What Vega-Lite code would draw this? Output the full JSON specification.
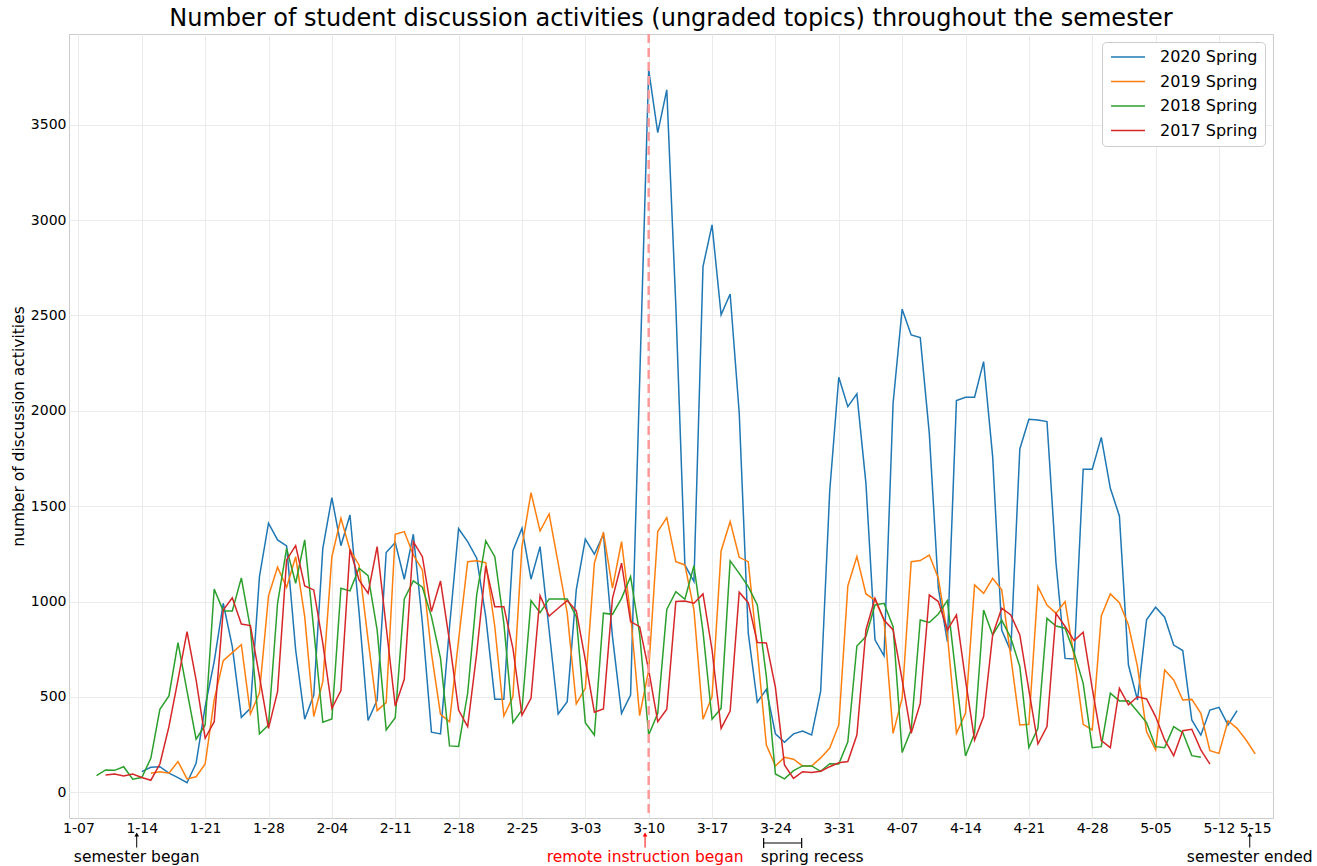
{
 "$schema": "https://vega.github.io/schema/vega-lite/v6.json",
 "width": 1204,
 "height": 784,
 "autosize": {"type": "none"},
 "padding": {"left": 69, "top": 34, "right": 44, "bottom": 48},
 "background": "white",
 "config": {
  "font": "DejaVu Sans",
  "view": {"stroke": "#cccccc", "strokeWidth": 1},
  "axis": {"domain": false, "ticks": false, "gridColor": "#ebebeb", "gridWidth": 1, "labelFont": "DejaVu Sans", "labelFontSize": 14, "labelColor": "#000000", "titleFont": "DejaVu Sans", "titleFontWeight": "normal", "titleColor": "#000000"}
 },
 "title": {"text": "Number of student discussion activities (ungraded topics) throughout the semester", "fontSize": 24, "font": "DejaVu Sans", "fontWeight": "normal", "color": "#000000", "offset": 2},
 "datasets": {
  "counts": [
   {"semester":"2020 Spring","day":7,"count":108},{"semester":"2020 Spring","day":8,"count":131},{"semester":"2020 Spring","day":9,"count":134},{"semester":"2020 Spring","day":10,"count":100},{"semester":"2020 Spring","day":11,"count":77},{"semester":"2020 Spring","day":12,"count":50},{"semester":"2020 Spring","day":13,"count":152},{"semester":"2020 Spring","day":14,"count":449},{"semester":"2020 Spring","day":15,"count":685},{"semester":"2020 Spring","day":16,"count":991},{"semester":"2020 Spring","day":17,"count":764},{"semester":"2020 Spring","day":18,"count":393},{"semester":"2020 Spring","day":19,"count":440},{"semester":"2020 Spring","day":20,"count":1131},{"semester":"2020 Spring","day":21,"count":1411},{"semester":"2020 Spring","day":22,"count":1323},{"semester":"2020 Spring","day":23,"count":1292},{"semester":"2020 Spring","day":24,"count":746},{"semester":"2020 Spring","day":25,"count":383},{"semester":"2020 Spring","day":26,"count":510},{"semester":"2020 Spring","day":27,"count":1279},{"semester":"2020 Spring","day":28,"count":1545},{"semester":"2020 Spring","day":29,"count":1293},{"semester":"2020 Spring","day":30,"count":1454},{"semester":"2020 Spring","day":31,"count":947},{"semester":"2020 Spring","day":32,"count":376},{"semester":"2020 Spring","day":33,"count":484},{"semester":"2020 Spring","day":34,"count":1257},{"semester":"2020 Spring","day":35,"count":1309},{"semester":"2020 Spring","day":36,"count":1117},{"semester":"2020 Spring","day":37,"count":1353},{"semester":"2020 Spring","day":38,"count":886},{"semester":"2020 Spring","day":39,"count":315},{"semester":"2020 Spring","day":40,"count":306},{"semester":"2020 Spring","day":41,"count":868},{"semester":"2020 Spring","day":42,"count":1382},{"semester":"2020 Spring","day":43,"count":1314},{"semester":"2020 Spring","day":44,"count":1227},{"semester":"2020 Spring","day":45,"count":921},{"semester":"2020 Spring","day":46,"count":488},{"semester":"2020 Spring","day":47,"count":488},{"semester":"2020 Spring","day":48,"count":1267},{"semester":"2020 Spring","day":49,"count":1384},{"semester":"2020 Spring","day":50,"count":1117},{"semester":"2020 Spring","day":51,"count":1288},{"semester":"2020 Spring","day":52,"count":851},{"semester":"2020 Spring","day":53,"count":410},{"semester":"2020 Spring","day":54,"count":475},{"semester":"2020 Spring","day":55,"count":1061},{"semester":"2020 Spring","day":56,"count":1327},{"semester":"2020 Spring","day":57,"count":1248},{"semester":"2020 Spring","day":58,"count":1353},{"semester":"2020 Spring","day":59,"count":816},{"semester":"2020 Spring","day":60,"count":414},{"semester":"2020 Spring","day":61,"count":510},{"semester":"2020 Spring","day":62,"count":2150},{"semester":"2020 Spring","day":63,"count":3788},{"semester":"2020 Spring","day":64,"count":3459},{"semester":"2020 Spring","day":65,"count":3683},{"semester":"2020 Spring","day":66,"count":2550},{"semester":"2020 Spring","day":67,"count":1192},{"semester":"2020 Spring","day":68,"count":1105},{"semester":"2020 Spring","day":69,"count":2756},{"semester":"2020 Spring","day":70,"count":2975},{"semester":"2020 Spring","day":71,"count":2503},{"semester":"2020 Spring","day":72,"count":2613},{"semester":"2020 Spring","day":73,"count":1990},{"semester":"2020 Spring","day":74,"count":834},{"semester":"2020 Spring","day":75,"count":472},{"semester":"2020 Spring","day":76,"count":540},{"semester":"2020 Spring","day":77,"count":306},{"semester":"2020 Spring","day":78,"count":262},{"semester":"2020 Spring","day":79,"count":306},{"semester":"2020 Spring","day":80,"count":321},{"semester":"2020 Spring","day":81,"count":300},{"semester":"2020 Spring","day":82,"count":530},{"semester":"2020 Spring","day":83,"count":1580},{"semester":"2020 Spring","day":84,"count":2176},{"semester":"2020 Spring","day":85,"count":2022},{"semester":"2020 Spring","day":86,"count":2089},{"semester":"2020 Spring","day":87,"count":1620},{"semester":"2020 Spring","day":88,"count":799},{"semester":"2020 Spring","day":89,"count":715},{"semester":"2020 Spring","day":90,"count":2040},{"semester":"2020 Spring","day":91,"count":2533},{"semester":"2020 Spring","day":92,"count":2398},{"semester":"2020 Spring","day":93,"count":2384},{"semester":"2020 Spring","day":94,"count":1882},{"semester":"2020 Spring","day":95,"count":1070},{"semester":"2020 Spring","day":96,"count":790},{"semester":"2020 Spring","day":97,"count":2054},{"semester":"2020 Spring","day":98,"count":2071},{"semester":"2020 Spring","day":99,"count":2071},{"semester":"2020 Spring","day":100,"count":2258},{"semester":"2020 Spring","day":101,"count":1760},{"semester":"2020 Spring","day":102,"count":851},{"semester":"2020 Spring","day":103,"count":740},{"semester":"2020 Spring","day":104,"count":1800},{"semester":"2020 Spring","day":105,"count":1956},{"semester":"2020 Spring","day":106,"count":1952},{"semester":"2020 Spring","day":107,"count":1944},{"semester":"2020 Spring","day":108,"count":1201},{"semester":"2020 Spring","day":109,"count":702},{"semester":"2020 Spring","day":110,"count":699},{"semester":"2020 Spring","day":111,"count":1694},{"semester":"2020 Spring","day":112,"count":1694},{"semester":"2020 Spring","day":113,"count":1861},{"semester":"2020 Spring","day":114,"count":1594},{"semester":"2020 Spring","day":115,"count":1449},{"semester":"2020 Spring","day":116,"count":667},{"semester":"2020 Spring","day":117,"count":484},{"semester":"2020 Spring","day":118,"count":904},{"semester":"2020 Spring","day":119,"count":970},{"semester":"2020 Spring","day":120,"count":918},{"semester":"2020 Spring","day":121,"count":772},{"semester":"2020 Spring","day":122,"count":743},{"semester":"2020 Spring","day":123,"count":379},{"semester":"2020 Spring","day":124,"count":300},{"semester":"2020 Spring","day":125,"count":431},{"semester":"2020 Spring","day":126,"count":445},{"semester":"2020 Spring","day":127,"count":353},{"semester":"2020 Spring","day":128,"count":428},
   {"semester":"2019 Spring","day":8,"count":100},{"semester":"2019 Spring","day":9,"count":108},{"semester":"2019 Spring","day":10,"count":100},{"semester":"2019 Spring","day":11,"count":161},{"semester":"2019 Spring","day":12,"count":70},{"semester":"2019 Spring","day":13,"count":81},{"semester":"2019 Spring","day":14,"count":148},{"semester":"2019 Spring","day":15,"count":484},{"semester":"2019 Spring","day":16,"count":690},{"semester":"2019 Spring","day":17,"count":732},{"semester":"2019 Spring","day":18,"count":774},{"semester":"2019 Spring","day":19,"count":410},{"semester":"2019 Spring","day":20,"count":520},{"semester":"2019 Spring","day":21,"count":1030},{"semester":"2019 Spring","day":22,"count":1180},{"semester":"2019 Spring","day":23,"count":1075},{"semester":"2019 Spring","day":24,"count":1235},{"semester":"2019 Spring","day":25,"count":921},{"semester":"2019 Spring","day":26,"count":397},{"semester":"2019 Spring","day":27,"count":580},{"semester":"2019 Spring","day":28,"count":1235},{"semester":"2019 Spring","day":29,"count":1437},{"semester":"2019 Spring","day":30,"count":1271},{"semester":"2019 Spring","day":31,"count":1192},{"semester":"2019 Spring","day":32,"count":799},{"semester":"2019 Spring","day":33,"count":428},{"semester":"2019 Spring","day":34,"count":470},{"semester":"2019 Spring","day":35,"count":1353},{"semester":"2019 Spring","day":36,"count":1367},{"semester":"2019 Spring","day":37,"count":1244},{"semester":"2019 Spring","day":38,"count":1166},{"semester":"2019 Spring","day":39,"count":729},{"semester":"2019 Spring","day":40,"count":409},{"semester":"2019 Spring","day":41,"count":370},{"semester":"2019 Spring","day":42,"count":799},{"semester":"2019 Spring","day":43,"count":1209},{"semester":"2019 Spring","day":44,"count":1214},{"semester":"2019 Spring","day":45,"count":1204},{"semester":"2019 Spring","day":46,"count":868},{"semester":"2019 Spring","day":47,"count":400},{"semester":"2019 Spring","day":48,"count":501},{"semester":"2019 Spring","day":49,"count":1288},{"semester":"2019 Spring","day":50,"count":1571},{"semester":"2019 Spring","day":51,"count":1370},{"semester":"2019 Spring","day":52,"count":1459},{"semester":"2019 Spring","day":53,"count":1201},{"semester":"2019 Spring","day":54,"count":939},{"semester":"2019 Spring","day":55,"count":463},{"semester":"2019 Spring","day":56,"count":545},{"semester":"2019 Spring","day":57,"count":1201},{"semester":"2019 Spring","day":58,"count":1363},{"semester":"2019 Spring","day":59,"count":1070},{"semester":"2019 Spring","day":60,"count":1314},{"semester":"2019 Spring","day":61,"count":930},{"semester":"2019 Spring","day":62,"count":402},{"semester":"2019 Spring","day":63,"count":640},{"semester":"2019 Spring","day":64,"count":1367},{"semester":"2019 Spring","day":65,"count":1440},{"semester":"2019 Spring","day":66,"count":1209},{"semester":"2019 Spring","day":67,"count":1192},{"semester":"2019 Spring","day":68,"count":956},{"semester":"2019 Spring","day":69,"count":383},{"semester":"2019 Spring","day":70,"count":502},{"semester":"2019 Spring","day":71,"count":1265},{"semester":"2019 Spring","day":72,"count":1419},{"semester":"2019 Spring","day":73,"count":1232},{"semester":"2019 Spring","day":74,"count":1209},{"semester":"2019 Spring","day":75,"count":746},{"semester":"2019 Spring","day":76,"count":248},{"semester":"2019 Spring","day":77,"count":138},{"semester":"2019 Spring","day":78,"count":183},{"semester":"2019 Spring","day":79,"count":173},{"semester":"2019 Spring","day":80,"count":138},{"semester":"2019 Spring","day":81,"count":138},{"semester":"2019 Spring","day":82,"count":180},{"semester":"2019 Spring","day":83,"count":232},{"semester":"2019 Spring","day":84,"count":353},{"semester":"2019 Spring","day":85,"count":1082},{"semester":"2019 Spring","day":86,"count":1236},{"semester":"2019 Spring","day":87,"count":1040},{"semester":"2019 Spring","day":88,"count":1008},{"semester":"2019 Spring","day":89,"count":903},{"semester":"2019 Spring","day":90,"count":309},{"semester":"2019 Spring","day":91,"count":493},{"semester":"2019 Spring","day":92,"count":1209},{"semester":"2019 Spring","day":93,"count":1215},{"semester":"2019 Spring","day":94,"count":1244},{"semester":"2019 Spring","day":95,"count":1122},{"semester":"2019 Spring","day":96,"count":825},{"semester":"2019 Spring","day":97,"count":309},{"semester":"2019 Spring","day":98,"count":414},{"semester":"2019 Spring","day":99,"count":1087},{"semester":"2019 Spring","day":100,"count":1043},{"semester":"2019 Spring","day":101,"count":1122},{"semester":"2019 Spring","day":102,"count":1061},{"semester":"2019 Spring","day":103,"count":711},{"semester":"2019 Spring","day":104,"count":353},{"semester":"2019 Spring","day":105,"count":356},{"semester":"2019 Spring","day":106,"count":1078},{"semester":"2019 Spring","day":107,"count":982},{"semester":"2019 Spring","day":108,"count":938},{"semester":"2019 Spring","day":109,"count":1000},{"semester":"2019 Spring","day":110,"count":711},{"semester":"2019 Spring","day":111,"count":356},{"semester":"2019 Spring","day":112,"count":327},{"semester":"2019 Spring","day":113,"count":924},{"semester":"2019 Spring","day":114,"count":1040},{"semester":"2019 Spring","day":115,"count":994},{"semester":"2019 Spring","day":116,"count":877},{"semester":"2019 Spring","day":117,"count":659},{"semester":"2019 Spring","day":118,"count":318},{"semester":"2019 Spring","day":119,"count":222},{"semester":"2019 Spring","day":120,"count":641},{"semester":"2019 Spring","day":121,"count":589},{"semester":"2019 Spring","day":122,"count":484},{"semester":"2019 Spring","day":123,"count":487},{"semester":"2019 Spring","day":124,"count":414},{"semester":"2019 Spring","day":125,"count":218},{"semester":"2019 Spring","day":126,"count":204},{"semester":"2019 Spring","day":127,"count":375},{"semester":"2019 Spring","day":128,"count":335},{"semester":"2019 Spring","day":129,"count":274},{"semester":"2019 Spring","day":130,"count":201},
   {"semester":"2018 Spring","day":2,"count":87},{"semester":"2018 Spring","day":3,"count":117},{"semester":"2018 Spring","day":4,"count":115},{"semester":"2018 Spring","day":5,"count":134},{"semester":"2018 Spring","day":6,"count":68},{"semester":"2018 Spring","day":7,"count":77},{"semester":"2018 Spring","day":8,"count":178},{"semester":"2018 Spring","day":9,"count":435},{"semester":"2018 Spring","day":10,"count":505},{"semester":"2018 Spring","day":11,"count":785},{"semester":"2018 Spring","day":12,"count":530},{"semester":"2018 Spring","day":13,"count":278},{"semester":"2018 Spring","day":14,"count":353},{"semester":"2018 Spring","day":15,"count":1066},{"semester":"2018 Spring","day":16,"count":951},{"semester":"2018 Spring","day":17,"count":951},{"semester":"2018 Spring","day":18,"count":1124},{"semester":"2018 Spring","day":19,"count":860},{"semester":"2018 Spring","day":20,"count":306},{"semester":"2018 Spring","day":21,"count":353},{"semester":"2018 Spring","day":22,"count":991},{"semester":"2018 Spring","day":23,"count":1279},{"semester":"2018 Spring","day":24,"count":1096},{"semester":"2018 Spring","day":25,"count":1323},{"semester":"2018 Spring","day":26,"count":851},{"semester":"2018 Spring","day":27,"count":367},{"semester":"2018 Spring","day":28,"count":384},{"semester":"2018 Spring","day":29,"count":1070},{"semester":"2018 Spring","day":30,"count":1056},{"semester":"2018 Spring","day":31,"count":1175},{"semester":"2018 Spring","day":32,"count":1136},{"semester":"2018 Spring","day":33,"count":851},{"semester":"2018 Spring","day":34,"count":327},{"semester":"2018 Spring","day":35,"count":391},{"semester":"2018 Spring","day":36,"count":1014},{"semester":"2018 Spring","day":37,"count":1108},{"semester":"2018 Spring","day":38,"count":1075},{"semester":"2018 Spring","day":39,"count":921},{"semester":"2018 Spring","day":40,"count":703},{"semester":"2018 Spring","day":41,"count":243},{"semester":"2018 Spring","day":42,"count":240},{"semester":"2018 Spring","day":43,"count":519},{"semester":"2018 Spring","day":44,"count":1035},{"semester":"2018 Spring","day":45,"count":1318},{"semester":"2018 Spring","day":46,"count":1235},{"semester":"2018 Spring","day":47,"count":886},{"semester":"2018 Spring","day":48,"count":365},{"semester":"2018 Spring","day":49,"count":431},{"semester":"2018 Spring","day":50,"count":1005},{"semester":"2018 Spring","day":51,"count":942},{"semester":"2018 Spring","day":52,"count":1014},{"semester":"2018 Spring","day":53,"count":1014},{"semester":"2018 Spring","day":54,"count":1014},{"semester":"2018 Spring","day":55,"count":921},{"semester":"2018 Spring","day":56,"count":365},{"semester":"2018 Spring","day":57,"count":300},{"semester":"2018 Spring","day":58,"count":939},{"semester":"2018 Spring","day":59,"count":933},{"semester":"2018 Spring","day":60,"count":1017},{"semester":"2018 Spring","day":61,"count":1131},{"semester":"2018 Spring","day":62,"count":830},{"semester":"2018 Spring","day":63,"count":300},{"semester":"2018 Spring","day":64,"count":414},{"semester":"2018 Spring","day":65,"count":959},{"semester":"2018 Spring","day":66,"count":1052},{"semester":"2018 Spring","day":67,"count":1012},{"semester":"2018 Spring","day":68,"count":1188},{"semester":"2018 Spring","day":69,"count":842},{"semester":"2018 Spring","day":70,"count":383},{"semester":"2018 Spring","day":71,"count":440},{"semester":"2018 Spring","day":72,"count":1213},{"semester":"2018 Spring","day":73,"count":1148},{"semester":"2018 Spring","day":74,"count":1078},{"semester":"2018 Spring","day":75,"count":982},{"semester":"2018 Spring","day":76,"count":606},{"semester":"2018 Spring","day":77,"count":96},{"semester":"2018 Spring","day":78,"count":70},{"semester":"2018 Spring","day":79,"count":113},{"semester":"2018 Spring","day":80,"count":138},{"semester":"2018 Spring","day":81,"count":138},{"semester":"2018 Spring","day":82,"count":110},{"semester":"2018 Spring","day":83,"count":150},{"semester":"2018 Spring","day":84,"count":148},{"semester":"2018 Spring","day":85,"count":265},{"semester":"2018 Spring","day":86,"count":767},{"semester":"2018 Spring","day":87,"count":816},{"semester":"2018 Spring","day":88,"count":982},{"semester":"2018 Spring","day":89,"count":991},{"semester":"2018 Spring","day":90,"count":868},{"semester":"2018 Spring","day":91,"count":208},{"semester":"2018 Spring","day":92,"count":327},{"semester":"2018 Spring","day":93,"count":903},{"semester":"2018 Spring","day":94,"count":890},{"semester":"2018 Spring","day":95,"count":935},{"semester":"2018 Spring","day":96,"count":1005},{"semester":"2018 Spring","day":97,"count":589},{"semester":"2018 Spring","day":98,"count":190},{"semester":"2018 Spring","day":99,"count":309},{"semester":"2018 Spring","day":100,"count":956},{"semester":"2018 Spring","day":101,"count":825},{"semester":"2018 Spring","day":102,"count":903},{"semester":"2018 Spring","day":103,"count":810},{"semester":"2018 Spring","day":104,"count":659},{"semester":"2018 Spring","day":105,"count":234},{"semester":"2018 Spring","day":106,"count":335},{"semester":"2018 Spring","day":107,"count":912},{"semester":"2018 Spring","day":108,"count":872},{"semester":"2018 Spring","day":109,"count":860},{"semester":"2018 Spring","day":110,"count":732},{"semester":"2018 Spring","day":111,"count":571},{"semester":"2018 Spring","day":112,"count":234},{"semester":"2018 Spring","day":113,"count":239},{"semester":"2018 Spring","day":114,"count":519},{"semester":"2018 Spring","day":115,"count":479},{"semester":"2018 Spring","day":116,"count":480},{"semester":"2018 Spring","day":117,"count":423},{"semester":"2018 Spring","day":118,"count":365},{"semester":"2018 Spring","day":119,"count":239},{"semester":"2018 Spring","day":120,"count":234},{"semester":"2018 Spring","day":121,"count":344},{"semester":"2018 Spring","day":122,"count":313},{"semester":"2018 Spring","day":123,"count":192},{"semester":"2018 Spring","day":124,"count":183},
   {"semester":"2017 Spring","day":3,"count":91},{"semester":"2017 Spring","day":4,"count":96},{"semester":"2017 Spring","day":5,"count":85},{"semester":"2017 Spring","day":6,"count":95},{"semester":"2017 Spring","day":7,"count":77},{"semester":"2017 Spring","day":8,"count":63},{"semester":"2017 Spring","day":9,"count":148},{"semester":"2017 Spring","day":10,"count":344},{"semester":"2017 Spring","day":11,"count":589},{"semester":"2017 Spring","day":12,"count":842},{"semester":"2017 Spring","day":13,"count":589},{"semester":"2017 Spring","day":14,"count":283},{"semester":"2017 Spring","day":15,"count":370},{"semester":"2017 Spring","day":16,"count":956},{"semester":"2017 Spring","day":17,"count":1020},{"semester":"2017 Spring","day":18,"count":882},{"semester":"2017 Spring","day":19,"count":874},{"semester":"2017 Spring","day":20,"count":606},{"semester":"2017 Spring","day":21,"count":335},{"semester":"2017 Spring","day":22,"count":528},{"semester":"2017 Spring","day":23,"count":1218},{"semester":"2017 Spring","day":24,"count":1293},{"semester":"2017 Spring","day":25,"count":1082},{"semester":"2017 Spring","day":26,"count":1061},{"semester":"2017 Spring","day":27,"count":781},{"semester":"2017 Spring","day":28,"count":440},{"semester":"2017 Spring","day":29,"count":533},{"semester":"2017 Spring","day":30,"count":1274},{"semester":"2017 Spring","day":31,"count":1113},{"semester":"2017 Spring","day":32,"count":1043},{"semester":"2017 Spring","day":33,"count":1288},{"semester":"2017 Spring","day":34,"count":868},{"semester":"2017 Spring","day":35,"count":452},{"semester":"2017 Spring","day":36,"count":592},{"semester":"2017 Spring","day":37,"count":1314},{"semester":"2017 Spring","day":38,"count":1235},{"semester":"2017 Spring","day":39,"count":947},{"semester":"2017 Spring","day":40,"count":1108},{"semester":"2017 Spring","day":41,"count":790},{"semester":"2017 Spring","day":42,"count":431},{"semester":"2017 Spring","day":43,"count":344},{"semester":"2017 Spring","day":44,"count":729},{"semester":"2017 Spring","day":45,"count":1187},{"semester":"2017 Spring","day":46,"count":973},{"semester":"2017 Spring","day":47,"count":973},{"semester":"2017 Spring","day":48,"count":755},{"semester":"2017 Spring","day":49,"count":405},{"semester":"2017 Spring","day":50,"count":493},{"semester":"2017 Spring","day":51,"count":1031},{"semester":"2017 Spring","day":52,"count":924},{"semester":"2017 Spring","day":53,"count":965},{"semester":"2017 Spring","day":54,"count":1005},{"semester":"2017 Spring","day":55,"count":951},{"semester":"2017 Spring","day":56,"count":694},{"semester":"2017 Spring","day":57,"count":420},{"semester":"2017 Spring","day":58,"count":437},{"semester":"2017 Spring","day":59,"count":1017},{"semester":"2017 Spring","day":60,"count":1201},{"semester":"2017 Spring","day":61,"count":895},{"semester":"2017 Spring","day":62,"count":868},{"semester":"2017 Spring","day":63,"count":640},{"semester":"2017 Spring","day":64,"count":370},{"semester":"2017 Spring","day":65,"count":435},{"semester":"2017 Spring","day":66,"count":1000},{"semester":"2017 Spring","day":67,"count":1003},{"semester":"2017 Spring","day":68,"count":991},{"semester":"2017 Spring","day":69,"count":1040},{"semester":"2017 Spring","day":70,"count":746},{"semester":"2017 Spring","day":71,"count":335},{"semester":"2017 Spring","day":72,"count":426},{"semester":"2017 Spring","day":73,"count":1049},{"semester":"2017 Spring","day":74,"count":994},{"semester":"2017 Spring","day":75,"count":785},{"semester":"2017 Spring","day":76,"count":783},{"semester":"2017 Spring","day":77,"count":550},{"semester":"2017 Spring","day":78,"count":143},{"semester":"2017 Spring","day":79,"count":73},{"semester":"2017 Spring","day":80,"count":108},{"semester":"2017 Spring","day":81,"count":103},{"semester":"2017 Spring","day":82,"count":110},{"semester":"2017 Spring","day":83,"count":134},{"semester":"2017 Spring","day":84,"count":155},{"semester":"2017 Spring","day":85,"count":161},{"semester":"2017 Spring","day":86,"count":300},{"semester":"2017 Spring","day":87,"count":851},{"semester":"2017 Spring","day":88,"count":1017},{"semester":"2017 Spring","day":89,"count":903},{"semester":"2017 Spring","day":90,"count":851},{"semester":"2017 Spring","day":91,"count":589},{"semester":"2017 Spring","day":92,"count":309},{"semester":"2017 Spring","day":93,"count":466},{"semester":"2017 Spring","day":94,"count":1035},{"semester":"2017 Spring","day":95,"count":1000},{"semester":"2017 Spring","day":96,"count":851},{"semester":"2017 Spring","day":97,"count":930},{"semester":"2017 Spring","day":98,"count":589},{"semester":"2017 Spring","day":99,"count":274},{"semester":"2017 Spring","day":100,"count":397},{"semester":"2017 Spring","day":101,"count":825},{"semester":"2017 Spring","day":102,"count":965},{"semester":"2017 Spring","day":103,"count":930},{"semester":"2017 Spring","day":104,"count":825},{"semester":"2017 Spring","day":105,"count":536},{"semester":"2017 Spring","day":106,"count":253},{"semester":"2017 Spring","day":107,"count":344},{"semester":"2017 Spring","day":108,"count":938},{"semester":"2017 Spring","day":109,"count":869},{"semester":"2017 Spring","day":110,"count":795},{"semester":"2017 Spring","day":111,"count":839},{"semester":"2017 Spring","day":112,"count":545},{"semester":"2017 Spring","day":113,"count":271},{"semester":"2017 Spring","day":114,"count":234},{"semester":"2017 Spring","day":115,"count":545},{"semester":"2017 Spring","day":116,"count":458},{"semester":"2017 Spring","day":117,"count":501},{"semester":"2017 Spring","day":118,"count":489},{"semester":"2017 Spring","day":119,"count":397},{"semester":"2017 Spring","day":120,"count":274},{"semester":"2017 Spring","day":121,"count":192},{"semester":"2017 Spring","day":122,"count":323},{"semester":"2017 Spring","day":123,"count":330},{"semester":"2017 Spring","day":124,"count":222},{"semester":"2017 Spring","day":125,"count":148}
  ]
 },
 "layer": [
  {
   "data": {"name": "counts"},
   "mark": {"type": "line", "strokeWidth": 1.5},
   "encoding": {
    "x": {"field": "day", "type": "quantitative",
     "scale": {"domain": [-1.04, 131.97], "nice": false, "zero": false},
     "axis": {"values": [0,7,14,21,28,35,42,49,56,63,70,77,84,91,98,105,112,119,126,130], "labelExpr": "datum.value == 130 ? '5-15' : timeFormat(datetime(2020, 0, 7 + datum.value), '%-m-%d')", "labelOverlap": false, "labelFlush": false, "labelBound": false, "labelPadding": 3, "gridOpacity": {"condition": {"test": "datum.value == 130", "value": 0}, "value": 1}, "title": null}},
    "y": {"field": "count", "type": "quantitative",
     "scale": {"domain": [-135, 3976], "nice": false, "zero": false},
     "axis": {"values": [0,500,1000,1500,2000,2500,3000,3500], "format": "d", "title": "number of discussion activities", "titleFontSize": 15.5, "titlePadding": 4, "labelPadding": 3}},
    "color": {"field": "semester", "type": "nominal",
     "scale": {"domain": ["2020 Spring", "2019 Spring", "2018 Spring", "2017 Spring"], "range": ["#1f77b4", "#ff7f0e", "#2ca02c", "#d62728"]},
     "legend": {"orient": "top-right", "offset": 8, "title": null, "symbolType": "M-3,0H3", "symbolStrokeWidth": 1.5, "symbolSize": 128, "symbolOffset": 11, "labelFontSize": 16, "labelFont": "DejaVu Sans", "labelColor": "#000000", "labelOffset": 24, "rowPadding": 8.5, "padding": 7, "strokeColor": "#cccccc", "fillColor": "white", "cornerRadius": 4}}
   }
  },
  {
   "data": {"values": [{"event": "remote instruction began", "day": 63}]},
   "mark": {"type": "rule", "color": "#ff9999", "strokeWidth": 2.5, "strokeDash": [9, 5]},
   "encoding": {"x": {"field": "day", "type": "quantitative", "scale": {"domain": [-1.04, 131.97], "nice": false, "zero": false}}}
  },
  {
   "data": {"values": [{"day": 6.44, "label": "semester began"}, {"day": 129.4, "label": "semester ended"}]},
   "layer": [
    {"mark": {"type": "rule", "color": "#000000", "strokeWidth": 1},
     "encoding": {"x": {"field": "day", "type": "quantitative"}, "y": {"datum": -290, "type": "quantitative"}, "y2": {"datum": -218}}},
    {"mark": {"type": "point", "shape": "triangle-up", "filled": true, "color": "#000000", "size": 22, "opacity": 1},
     "encoding": {"x": {"field": "day", "type": "quantitative"}, "y": {"datum": -222, "type": "quantitative"}}},
    {"mark": {"type": "text", "color": "#000000", "fontSize": 15.5, "font": "DejaVu Sans", "align": "center", "baseline": "middle"},
     "encoding": {"x": {"field": "day", "type": "quantitative"}, "y": {"datum": -339, "type": "quantitative"}, "text": {"field": "label"}}}
   ]
  },
  {
   "data": {"values": [{"day": 62.6, "label": "remote instruction began"}]},
   "layer": [
    {"mark": {"type": "rule", "color": "#ff0000", "strokeWidth": 1},
     "encoding": {"x": {"field": "day", "type": "quantitative"}, "y": {"datum": -290, "type": "quantitative"}, "y2": {"datum": -218}}},
    {"mark": {"type": "point", "shape": "triangle-up", "filled": true, "color": "#ff0000", "size": 22, "opacity": 1},
     "encoding": {"x": {"field": "day", "type": "quantitative"}, "y": {"datum": -222, "type": "quantitative"}}},
    {"mark": {"type": "text", "color": "#ff0000", "fontSize": 15.5, "font": "DejaVu Sans", "align": "center", "baseline": "middle"},
     "encoding": {"x": {"field": "day", "type": "quantitative"}, "y": {"datum": -339, "type": "quantitative"}, "text": {"field": "label"}}}
   ]
  },
  {
   "data": {"values": [{"start": 75.7, "end": 79.9, "label": "spring recess"}]},
   "layer": [
    {"mark": {"type": "rule", "color": "#000000", "strokeWidth": 1.2},
     "encoding": {"x": {"field": "start", "type": "quantitative"}, "x2": {"field": "end"}, "y": {"datum": -266, "type": "quantitative"}}},
    {"mark": {"type": "rule", "color": "#000000", "strokeWidth": 1.2},
     "encoding": {"x": {"field": "start", "type": "quantitative"}, "y": {"datum": -240, "type": "quantitative"}, "y2": {"datum": -292}}},
    {"mark": {"type": "rule", "color": "#000000", "strokeWidth": 1.2},
     "encoding": {"x": {"field": "end", "type": "quantitative"}, "y": {"datum": -240, "type": "quantitative"}, "y2": {"datum": -292}}},
    {"mark": {"type": "text", "color": "#000000", "fontSize": 15.5, "font": "DejaVu Sans", "align": "left", "baseline": "middle", "dx": -3},
     "encoding": {"x": {"field": "start", "type": "quantitative"}, "y": {"datum": -339, "type": "quantitative"}, "text": {"field": "label"}}}
   ]
  }
 ]
}
